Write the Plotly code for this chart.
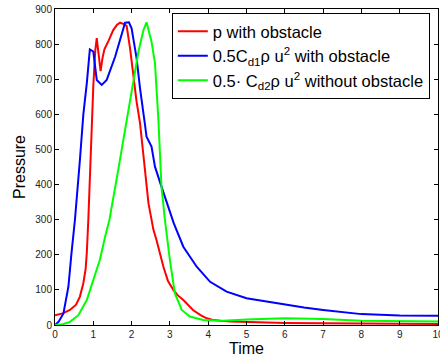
import plotly.graph_objects as go

# Red: p with obstacle
t_p = [0, 0.2, 0.39, 0.55, 0.65, 0.74, 0.8, 0.83, 0.87, 0.92, 0.96, 1.0, 1.05, 1.09, 1.14, 1.19,
       1.24, 1.29, 1.4, 1.52, 1.62, 1.70, 1.80, 1.87, 1.96, 2.04, 2.13, 2.22, 2.35, 2.44, 2.57,
       2.65, 2.83, 2.95, 3.09, 3.2, 3.35, 3.5, 3.61, 3.8, 3.96, 4.1, 4.31, 4.6, 5.09, 6, 7, 8, 9, 10]
v_p = [28, 33, 43, 58, 81, 119, 160, 205, 299, 440, 584, 680, 780, 817, 770, 723,
       760, 785, 810, 840, 855, 861, 857, 852, 788, 712, 636, 575, 441, 347, 271,
       242, 166, 125, 100, 85, 71, 55, 42, 28, 19, 15, 12, 10, 8, 6, 5, 4, 3, 3]

# Blue: 0.5 Cd1 rho u^2 with obstacle
t_b = [0, 0.1, 0.22, 0.35, 0.43, 0.52, 0.65, 0.74, 0.83, 0.91, 1.0, 1.05, 1.09, 1.22, 1.35, 1.57,
       1.74, 1.83, 1.93, 2.0, 2.13, 2.22, 2.35, 2.39, 2.52, 2.61, 2.78, 2.96, 3.1, 3.35, 3.70,
       4.05, 4.31, 4.48, 5.0, 5.5, 6.0, 6.5, 7.0, 7.5, 8.0, 9.0, 10.0]
v_b = [0, 10, 33, 109, 204, 299, 470, 600, 688, 785, 779, 740, 698, 684, 698, 764,
       831, 861, 862, 845, 760, 674, 570, 536, 508, 451, 394, 337, 290, 223, 166,
       123, 107, 95, 76, 67, 59, 50, 43, 36, 31, 27, 26]

# Green: 0.5 Cd2 rho u^2 without obstacle
t_g = [0, 0.2, 0.39, 0.61, 0.83, 1.0, 1.17, 1.31, 1.42, 1.65, 1.83, 1.96, 2.04, 2.13, 2.18,
       2.31, 2.39, 2.52, 2.61, 2.70, 2.78, 2.87, 3.0, 3.13, 3.31, 3.52, 3.87, 4.39, 5.0, 6.0,
       7.0, 8.0, 9.0, 10.0]
v_g = [0, 2, 9, 28, 71, 128, 185, 252, 299, 441, 555, 630, 688, 740, 779,
       840, 862, 807, 746, 584, 394, 299, 185, 90, 43, 24, 14, 12, 16, 19,
       17, 12, 11, 10]

names = ["p with obstacle",
         "0.5C<sub>d1</sub>ρ u<sup>2</sup> with obstacle",
         "0.5· C<sub>d2</sub>ρ u<sup>2</sup> without obstacle"]
colors = ["#ff0000", "#0000ff", "#00ff00"]

fig = go.Figure()
for t, v, n, c in zip([t_p, t_b, t_g], [v_p, v_b, v_g], names, colors):
    fig.add_trace(go.Scatter(x=t, y=v, mode="lines", name=n,
                             line=dict(color=c, width=2)))

axis_common = dict(showline=True, linecolor="black", linewidth=1, mirror="ticks",
                   ticks="inside", ticklen=4, tickcolor="black", showgrid=False,
                   zeroline=False, automargin=False, ticklabeloverflow="allow",
                   tickfont=dict(size=10, color="#222"))

fig.update_layout(
    width=440, height=361,
    margin=dict(l=55, r=2, t=9, b=36),
    paper_bgcolor="white", plot_bgcolor="white",
    font=dict(family="Liberation Sans, Arial, sans-serif", color="black"),
    xaxis=dict(range=[0, 10], dtick=1, tick0=0,
               title=dict(text="Time", font=dict(size=16), standoff=3), **axis_common),
    yaxis=dict(range=[0, 900], dtick=100, tick0=0,
               title=dict(text="Pressure", font=dict(size=16), standoff=5), **axis_common),
    legend=dict(x=0.305, y=0.987, xanchor="left", yanchor="top",
                bordercolor="black", borderwidth=1, bgcolor="white",
                font=dict(size=16.5)),
    showlegend=True,
)

fig.write_html("out.html",
               config={"displayModeBar": False},
               post_script="document.body.style.margin='0';document.body.style.overflow='hidden';")
